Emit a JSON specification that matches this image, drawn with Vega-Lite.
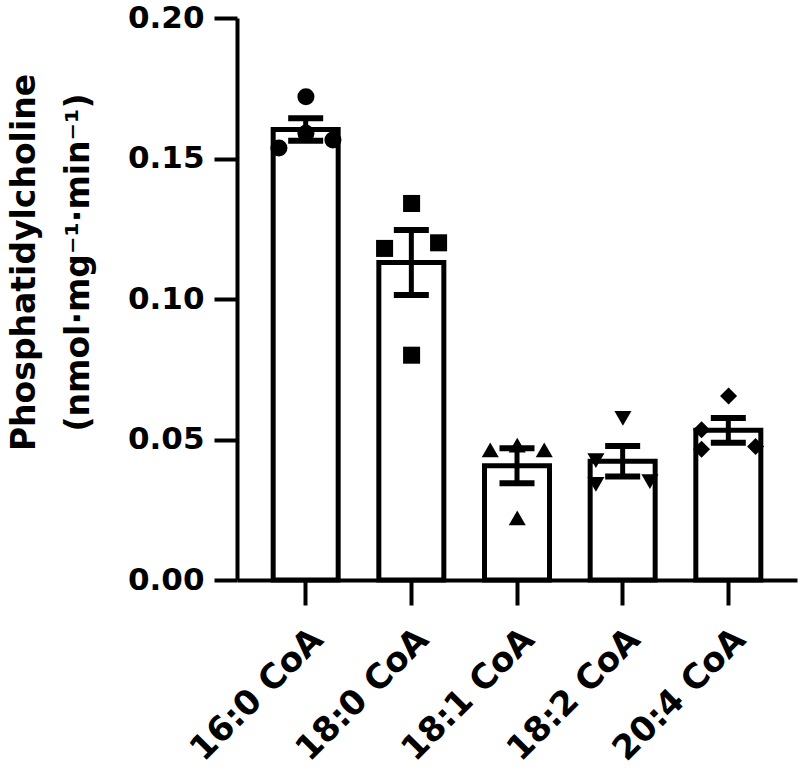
{
  "$schema": "https://vega.github.io/schema/vega-lite/v6.json",
  "width": 560,
  "height": 562,
  "autosize": {"type": "none"},
  "padding": {"left": 237, "top": 18, "right": 3, "bottom": 191},
  "background": "white",
  "config": {
    "view": {"stroke": null},
    "font": "DejaVu Sans",
    "style": {"guide-title": {"lineBreak": "\n"}}
  },
  "data": {
    "values": [
      {"substrate": "16:0 CoA", "lane": 0, "value": 0.172},
      {"substrate": "16:0 CoA", "lane": -1, "value": 0.1537},
      {"substrate": "16:0 CoA", "lane": 1, "value": 0.1566},
      {"substrate": "16:0 CoA", "lane": 0, "value": 0.159},
      {"substrate": "18:0 CoA", "lane": 0, "value": 0.134},
      {"substrate": "18:0 CoA", "lane": -1, "value": 0.118},
      {"substrate": "18:0 CoA", "lane": 1, "value": 0.12},
      {"substrate": "18:0 CoA", "lane": 0, "value": 0.08},
      {"substrate": "18:1 CoA", "lane": -1, "value": 0.0463},
      {"substrate": "18:1 CoA", "lane": 0, "value": 0.048},
      {"substrate": "18:1 CoA", "lane": 1, "value": 0.0463},
      {"substrate": "18:1 CoA", "lane": 0, "value": 0.0221},
      {"substrate": "18:2 CoA", "lane": 0, "value": 0.0575},
      {"substrate": "18:2 CoA", "lane": -1, "value": 0.0425},
      {"substrate": "18:2 CoA", "lane": -1, "value": 0.034},
      {"substrate": "18:2 CoA", "lane": 1, "value": 0.035},
      {"substrate": "20:4 CoA", "lane": 0, "value": 0.0655},
      {"substrate": "20:4 CoA", "lane": -1, "value": 0.0535},
      {"substrate": "20:4 CoA", "lane": -1, "value": 0.0465},
      {"substrate": "20:4 CoA", "lane": 1, "value": 0.0475}
    ]
  },
  "encoding": {
    "x": {
      "field": "substrate",
      "type": "nominal",
      "sort": ["16:0 CoA", "18:0 CoA", "18:1 CoA", "18:2 CoA", "20:4 CoA"],
      "scale": {"paddingInner": 0.38, "paddingOuter": 0.34},
      "axis": {
        "title": null,
        "labelAngle": -45,
        "labelFontSize": 34,
        "labelFontWeight": "bold",
        "labelColor": "black",
        "labelPadding": 17,
        "labelLimit": 400,
        "domainColor": "black",
        "domainWidth": 4,
        "tickColor": "black",
        "tickWidth": 4,
        "tickSize": 25
      }
    }
  },
  "layer": [
    {
      "mark": {"type": "bar", "fill": "white", "stroke": "black", "strokeWidth": 5, "width": 65},
      "encoding": {
        "y": {
          "aggregate": "mean",
          "field": "value",
          "type": "quantitative",
          "scale": {"domain": [0, 0.2]},
          "axis": {
            "values": [0, 0.05, 0.1, 0.15, 0.2],
            "format": ".2f",
            "grid": false,
            "title": "Phosphatidylcholine\n(nmol·mg⁻¹·min⁻¹)",
            "titleFontSize": 33,
            "titleFontWeight": "bold",
            "titleColor": "black",
            "titleLineHeight": 54,
            "titlePadding": 32,
            "titleY": 244,
            "titleLimit": 700,
            "labelFontSize": 31,
            "labelFontWeight": "bold",
            "labelColor": "black",
            "labelPadding": 10,
            "domainColor": "black",
            "domainWidth": 4,
            "tickColor": "black",
            "tickWidth": 4,
            "tickSize": 23
          }
        }
      }
    },
    {
      "mark": {"type": "point", "filled": true, "color": "black", "opacity": 1, "size": 290},
      "encoding": {
        "y": {"field": "value", "type": "quantitative", "axis": {"title": "Phosphatidylcholine\n(nmol·mg⁻¹·min⁻¹)"}},
        "xOffset": {"field": "lane", "type": "quantitative", "scale": {"domain": [-1, 1], "range": [6, 60]}},
        "shape": {
          "field": "substrate",
          "type": "nominal",
          "scale": {
            "domain": ["16:0 CoA", "18:0 CoA", "18:1 CoA", "18:2 CoA", "20:4 CoA"],
            "range": ["circle", "square", "triangle-up", "triangle-down", "diamond"]
          },
          "legend": null
        }
      }
    },
    {
      "mark": {"type": "errorbar", "extent": "stderr", "color": "black", "opacity": 1, "thickness": 5, "ticks": {"size": 35, "thickness": 6, "color": "black", "opacity": 1}},
      "encoding": {"y": {"field": "value", "type": "quantitative", "axis": {"title": "Phosphatidylcholine\n(nmol·mg⁻¹·min⁻¹)"}}}
    }
  ]
}
